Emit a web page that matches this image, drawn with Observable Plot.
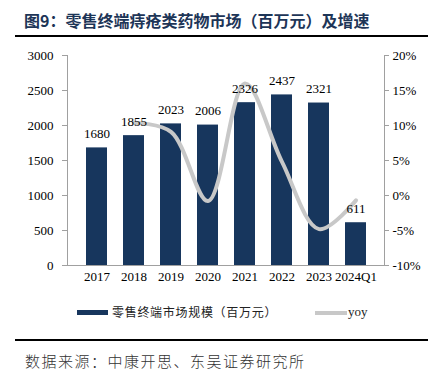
<!DOCTYPE html>
<html><head><meta charset="utf-8">
<script src="https://cdn.jsdelivr.net/npm/d3@7"></script>
<script src="https://cdn.jsdelivr.net/npm/@observablehq/plot@0.6"></script>
<style>
body{margin:0;background:#fff;width:428px;height:370px;position:relative;overflow:hidden;font-family:"Noto Sans CJK SC",sans-serif}
#title{position:absolute;left:24px;top:8px;font-size:16px;font-weight:bold;color:#1d3557;white-space:nowrap;line-height:24px}
.rule{position:absolute;left:15px;width:413px;height:2px;background:#000}
#chart{position:absolute;left:0;top:45px}
#legend{position:absolute;left:0;top:302px;width:428px;height:20px}
.sw{position:absolute}
.lt{position:absolute;top:0;line-height:20px;color:#222;white-space:nowrap}
#source{position:absolute;left:25px;top:351px;font-size:15px;letter-spacing:1.5px;color:#333;white-space:nowrap;line-height:20px;font-weight:300}
</style></head><body>
<div id="title">图9：零售终端痔疮类药物市场（百万元）及增速</div>
<div class="rule" style="top:35px"></div>
<div id="chart"></div>
<div id="legend">
  <div class="sw" style="left:77px;top:8px;width:31px;height:5px;background:#17365d"></div>
  <div class="lt" style="left:112px;font-size:12px;letter-spacing:0.7px">零售终端市场规模（百万元）</div>
  <div class="sw" style="left:315px;top:9px;width:32px;height:4px;background:#c8c8c8"></div>
  <div class="lt" style="left:348px;font-size:13px;font-family:'Liberation Serif',serif">yoy</div>
</div>
<div class="rule" style="top:339px"></div>
<div id="source">数据来源：中康开思、东吴证券研究所</div>
<script>
const categories = ["2017","2018","2019","2020","2021","2022","2023","2024Q1"];
const marketSize = [1680,1855,2023,2006,2326,2437,2321,611];
const yoy = [null,10.4,9.1,-0.8,16.0,4.8,-4.8,-0.7];
const leftTicks = [0,500,1000,1500,2000,2500,3000];
const rightTickLabels = ["-10%","-5%","0%","5%","10%","15%","20%"];

const data = categories.map((c,i)=>({cat:c,size:marketSize[i],yoy:yoy[i]}));
const lineData = data.filter(d=>d.yoy!==null);
const toLeft = v => (v+10)*100;

const plot = Plot.plot({
  width:428, height:245,
  marginTop:10, marginBottom:25, marginLeft:67, marginRight:44,
  x:{domain:categories, padding:0.44, label:null},
  y:{domain:[0,3000], label:null},
  style:{fontFamily:"'Liberation Serif', serif", fontSize:"13px", color:"#000", background:"#fff"},
  marks:[
    Plot.barY(data,{x:"cat", y:"size", fill:"#17365d"}),
    Plot.line(lineData,{x:"cat", y:d=>toLeft(d.yoy), stroke:"#c8c8c8", strokeWidth:4, curve:"catmull-rom"}),
    Plot.text(data,{x:"cat", y:"size", text:d=>String(d.size), dy:-14, fontSize:13, fill:"#000"}),
    Plot.axisY({anchor:"left", ticks:leftTicks, tickSize:5, tickPadding:9, label:null, stroke:"#a0a0a0", fill:"#000", tickFormat:d=>String(d)}),
    Plot.axisY({anchor:"right", ticks:leftTicks, tickSize:4, tickPadding:4, label:null, stroke:"#a0a0a0", fill:"#000", tickFormat:d=>rightTickLabels[leftTicks.indexOf(d)]}),
    Plot.axisX({tickSize:0, tickPadding:6, label:null, fill:"#000"}),
    Plot.frame({anchor:"left", stroke:"#a0a0a0"}),
    Plot.frame({anchor:"right", stroke:"#a0a0a0"}),
    Plot.ruleY([0],{stroke:"#a0a0a0"})
  ]
});
document.getElementById("chart").appendChild(plot);
</script>
</body></html>
